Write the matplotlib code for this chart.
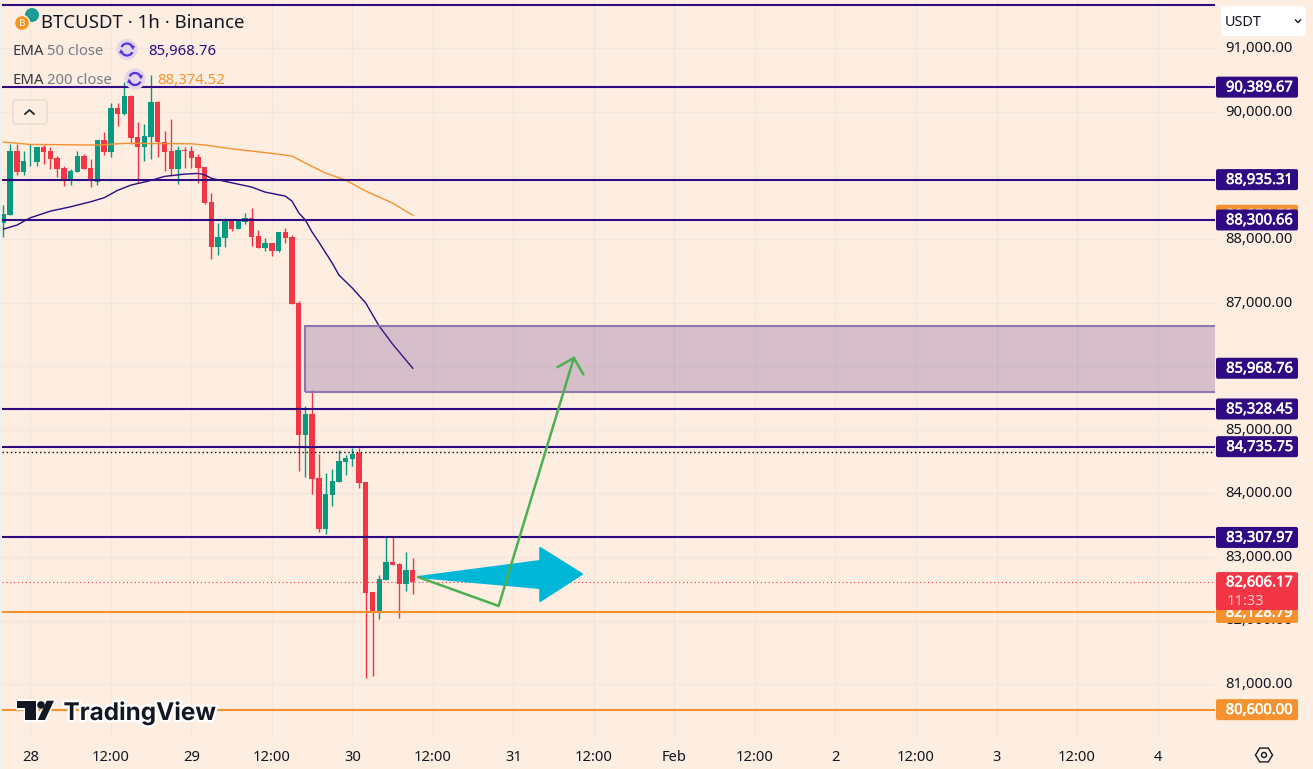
import numpy as np
import matplotlib
matplotlib.use('Agg')
import matplotlib.pyplot as plt
from matplotlib.patches import Circle, Arc, FancyBboxPatch, Polygon, Rectangle
from matplotlib.transforms import ScaledTranslation
import matplotlib.patheffects as pe

# candles, hours counted from 28 Jan 00:00
hours = np.arange(-4, 58)
opens = [88257, 88378, 89385, 89059, 89222, 89217, 89448, 89385, 89280, 89112, 88949, 89059, 89306, 89112, 88897, 89553,
         89369, 90056, 89962, 90250, 89605, 89453, 89605, 90156, 89521, 89385, 89107, 89400, 89385, 89296, 89138, 88582,
         87879, 88021, 88299, 88163, 88267, 88325, 88047, 87864, 87932, 87811, 88110, 88036, 86993, 84917, 85247, 84240,
         83443, 83973, 84182, 84497, 84544, 84634, 84178, 82447, 82137, 82636, 82919, 82888, 82578, 82793]
highs = [88535, 89490, 89500, 89385, 89490, 89448, 89479, 89448, 89306, 89149, 89096, 89385, 89332, 89254, 89553, 89684,
         90135, 90145, 90470, 90261, 89846, 89804, 90580, 90171, 89699, 89883, 89463, 89453, 89463, 89332, 89138, 88729,
         88247, 88336, 88309, 88299, 88414, 88483, 88142, 88021, 87942, 88110, 88168, 88063, 87025, 85373, 85625, 84618,
         84319, 84382, 84681, 84602, 84712, 84712, 84178, 82447, 82715, 83312, 83312, 82904, 83077, 82982]
lows = [88037, 88378, 89007, 89007, 89149, 89149, 89175, 89096, 88976, 88834, 88844, 89059, 89096, 88823, 88844, 89316,
        89290, 89778, 89951, 89490, 88886, 89227, 89264, 89296, 89070, 88991, 88871, 89122, 89122, 88886, 88545, 87691,
        87748, 87879, 88126, 88163, 88231, 87890, 87853, 87811, 87733, 87801, 87942, 86978, 84351, 84261, 83994, 83396,
        83364, 83800, 84182, 84288, 84429, 84088, 81099, 81126, 82027, 82636, 82872, 82043, 82463, 82421]
closes = [88388, 89385, 89059, 89227, 89227, 89448, 89374, 89264, 89107, 88949, 89070, 89306, 89107, 88913, 89553, 89374,
          90056, 89972, 90250, 89594, 89453, 89621, 90156, 89521, 89374, 89107, 89400, 89385, 89280, 89122, 88561, 87879,
          88031, 88309, 88163, 88299, 88325, 88037, 87864, 87932, 87811, 88110, 88021, 86982, 84917, 85247, 84230, 83443,
          83984, 84193, 84508, 84555, 84623, 84167, 82436, 82137, 82652, 82919, 82872, 82578, 82793, 82606.17]

ema50_hours = [-4, -2, 0, 3, 6, 9, 11, 13, 15, 18, 20, 23, 25, 26, 27, 30, 33, 35, 38, 39, 40, 41, 42, 43, 45, 46, 48, 50, 52, 54, 57]
ema50 = [88157, 88220, 88335, 88440, 88508, 88587, 88650, 88766, 88849, 88923, 88986, 89022, 89033, 89011, 88955, 88886,
         88818, 88739, 88676, 88598, 88414, 88299, 88110, 87953, 87622, 87434, 87229, 86993, 86631, 86348, 85968.76]
ema200_hours = [-4, 0, 10, 14, 24, 26, 30, 36, 39, 41, 44, 47, 50, 54, 57]
ema200 = [89526, 89489, 89479, 89505, 89499, 89479, 89420, 89348, 89306, 89195, 89038, 88928, 88755, 88566, 88374.52]

purple_levels = [90389.67, 88935.31, 88300.66, 85328.45, 84735.75, 83307.97]
orange_levels = [82128.79, 80600.00]
top_level = 91680
prev_close = 84645
last_price = 82606.17
zone_start, zone_low, zone_high = 41, 85595, 86633

path_hours = [57.8, 69.8, 81.0]
path_prices = [82686, 82230, 86130]
head_hours = [78.6, 81.0, 82.4]
head_prices = [85989, 86130, 85878]
blue_hours = [57.8, 76, 76, 82.2, 76, 76]
blue_prices = [82686, 82938, 83142, 82733, 82309, 82513]

price_ticks = np.arange(81000, 92000, 1000)
time_ticks = np.arange(0, 169, 12)
time_labels = ['28', '12:00', '29', '12:00', '30', '12:00', '31', '12:00', 'Feb', '12:00', '2', '12:00', '3', '12:00', '4']

BG = '#fdeee1'
GRID = '#f4e6da'
GREEN = '#089981'
RED = '#f23645'
PURPLE = '#2f0a82'
ORANGE = '#f5922f'
TEXT = '#131722'

plt.rcParams['font.family'] = ['Noto Sans', 'DejaVu Sans']
W, H = 1313, 769
fig = plt.figure(figsize=(W / 100, H / 100), dpi=100, facecolor=BG)
fig.patches.append(Rectangle((0, 0), 2 / W, 1, transform=fig.transFigure, facecolor='#e9f1f2', edgecolor='none'))

ax = fig.add_axes([2 / W, (H - 737) / H, 1213 / W, 737 / H], facecolor=BG)
ax.set_xlim(-4.218, 176.56)
ax.set_ylim(80170, 91760)
for s in ax.spines.values():
    s.set_visible(False)
ax.set_axisbelow(True)
ax.grid(color=GRID, linewidth=1)
ax.yaxis.tick_right()
ax.set_yticks(price_ticks, [f'{p:,.2f}' for p in price_ticks])
ax.set_xticks(time_ticks, time_labels)
ax.tick_params(axis='both', length=0, labelcolor=TEXT, labelsize=10.6)
ax.tick_params(axis='y', pad=7.5)
ax.tick_params(axis='x', pad=9.5)
ax.get_xticklabels()[8].set_fontweight('bold')
# nudge price labels up a touch
for lab in ax.get_yticklabels():
    lab.set_transform(lab.get_transform() + ScaledTranslation(0, 1.2 / 72, fig.dpi_scale_trans))

# candles
colors = [GREEN if c >= o else RED for o, c in zip(opens, closes)]
ax.vlines(hours, lows, highs, colors=colors, linewidth=1, zorder=3)
ax.bar(hours, np.abs(np.array(closes) - np.array(opens)), bottom=np.minimum(opens, closes), width=0.8,
       color=colors, linewidth=0, zorder=3)

ax.plot(ema50_hours, ema50, color=PURPLE, linewidth=1, zorder=4)
ax.plot(ema200_hours, ema200, color=ORANGE, linewidth=1, zorder=4)

# zone and level lines
ax.add_patch(Rectangle((zone_start, zone_low), 200 - zone_start, zone_high - zone_low, facecolor='#5a2d82', alpha=0.24,
                       edgecolor='none', zorder=5))
ax.add_patch(Rectangle((zone_start, zone_low), 200 - zone_start, zone_high - zone_low, facecolor='none',
                       edgecolor='#8f76ae', linewidth=1.5, zorder=5))
ax.axhline(prev_close, color='black', linewidth=1, linestyle=(0, (1, 2)), zorder=5)
ax.axhline(last_price, color=RED, linewidth=0.8, linestyle=(0, (1, 2.5)), zorder=5)
for lv in purple_levels + [top_level]:
    ax.axhline(lv, color=PURPLE, linewidth=1.5, zorder=6)
for lv in orange_levels:
    ax.axhline(lv, color=ORANGE, linewidth=1.5, zorder=6)

# drawn arrows
ax.fill(blue_hours, blue_prices, facecolor='#00b7d8', edgecolor='#00b7d8', linewidth=1.5, joinstyle='round', zorder=7)
ax.plot(path_hours, path_prices, color='#4caf50', linewidth=1.8, zorder=8)
ax.plot(head_hours, head_prices, color='#4caf50', linewidth=1.8, zorder=8)

# pixel overlay for the labels and controls
ov = fig.add_axes([0, 0, 1, 1], facecolor='none')
ov.set_xlim(0, W)
ov.set_ylim(H, 0)
ov.axis('off')
thin = [pe.withStroke(linewidth=0.4, foreground='white')]


def price_y(p):
    return H - ax.transData.transform((0, p))[1]


def price_tag(p, color, z=10):
    y = price_y(p)
    ov.add_patch(FancyBboxPatch((1217, y - 9.5), 80, 19, boxstyle='round,pad=1,rounding_size=2', facecolor=color,
                                edgecolor='none', zorder=z))
    ov.text(1293, y + 0.8, f'{p:,.2f}', color='white', ha='right', va='center', fontsize=10.6, zorder=z + 0.5, path_effects=thin)


price_tag(ema200[-1], ORANGE, 10)
price_tag(orange_levels[0], ORANGE, 10)
price_tag(orange_levels[1], ORANGE, 10)
for lv in purple_levels + [ema50[-1]]:
    price_tag(lv, PURPLE, 12)

# last price with countdown
ly = price_y(last_price)
ov.add_patch(FancyBboxPatch((1217, ly - 9), 80, 36, boxstyle='round,pad=1,rounding_size=2', facecolor=RED,
                            edgecolor='none', zorder=14))
ov.text(1293, ly + 0.8, f'{last_price:,.2f}', color='white', ha='right', va='center', fontsize=10.6, zorder=15, path_effects=thin)
ov.text(1227, ly + 19, '11:33', color='#ffc2c8', ha='left', va='center', fontsize=10.6, zorder=15)

# symbol header
ov.add_patch(Circle((32, 15), 7, facecolor='#1e9c94', edgecolor='none', zorder=20))
ov.add_patch(Circle((22, 23), 7.5, facecolor='#f7931a', edgecolor=BG, linewidth=1, zorder=21))
ov.text(22, 23, 'B', color='white', fontsize=7, fontweight='bold', ha='center', va='center', zorder=22)
ov.text(41, 22.5, 'BTCUSDT · 1h · Binance', color=TEXT, fontsize=13.4, ha='left', va='center', zorder=22)


def ema_row(y, name, detail, value, vcolor, detail_x, icon_x, value_x):
    ov.text(13, y + 1.5, name, color=TEXT, fontsize=10.7, ha='left', va='center', zorder=22, alpha=0.85)
    ov.text(detail_x, y + 1.5, detail, color='#787b86', fontsize=10.7, ha='left', va='center', zorder=22)
    ov.add_patch(Circle((icon_x, y - 0.5), 10.5, facecolor='#e3d5ea', edgecolor='none', zorder=22))
    for t1, t2 in ((25, 165), (205, 345)):
        ov.add_patch(Arc((icon_x, y - 0.5), 12, 12, theta1=t1, theta2=t2, edgecolor='#5a2fe0', linewidth=1.6, zorder=23))
    # arrow tips on the refresh ring
    ov.add_patch(Polygon([(icon_x + 3, y - 5), (icon_x + 8, y - 4), (icon_x + 6, y)], closed=True, facecolor='#5a2fe0',
                         edgecolor='none', zorder=23))
    ov.add_patch(Polygon([(icon_x - 3, y + 4), (icon_x - 8, y + 3), (icon_x - 6, y - 1)], closed=True, facecolor='#5a2fe0',
                         edgecolor='none', zorder=23))
    ov.text(value_x, y + 1.5, value, color=vcolor, fontsize=10.7, ha='left', va='center', zorder=22)


ema_row(50, 'EMA', '50 close', '85,968.76', PURPLE, 47, 127, 148)
ema_row(79.5, 'EMA', '200 close', '88,374.52', ORANGE, 47, 135, 157)

# collapse button
ov.add_patch(FancyBboxPatch((13, 100), 34, 24, boxstyle='round,pad=0,rounding_size=3', facecolor=BG, edgecolor='#e8dccf',
                            linewidth=1, zorder=22))
ov.plot([25, 29.5, 34], [114, 110, 114], color=TEXT, linewidth=1.2, zorder=23)

# currency selector
ov.add_patch(FancyBboxPatch((1221, 6), 85, 30, boxstyle='round,pad=0,rounding_size=4', facecolor='white', edgecolor='none',
                            zorder=22))
ov.text(1225, 22.5, 'USDT', color=TEXT, fontsize=10.4, ha='left', va='center', zorder=23)
ov.plot([1295.5, 1298, 1300.5], [20, 22.5, 20], color=TEXT, linewidth=1, zorder=23)

# settings hexagon
a = np.deg2rad(np.arange(0, 360, 60))
ov.add_patch(Polygon(np.c_[1264 + 8.5 * np.cos(a), 755 + 8 * np.sin(a)], closed=True, facecolor='none', edgecolor=TEXT,
                     linewidth=1, zorder=22))
ov.add_patch(Circle((1264, 755), 2.5, facecolor='none', edgecolor=TEXT, linewidth=1, zorder=22))

# watermark
logo = ([(16.7, 700.7), (36, 700.7), (36, 720), (25, 720), (25, 708.3), (16.7, 708.3)],
        [(46.7, 700.7), (54, 700.7), (45, 720), (37.7, 720)])
for pts in logo:
    ov.add_patch(Polygon(pts, closed=True, facecolor='white', edgecolor='white', linewidth=2.5, joinstyle='round', zorder=23))
ov.add_patch(Circle((41, 705), 3.8, facecolor='#131722', edgecolor='none', zorder=24))
for pts in logo:
    ov.add_patch(Polygon(pts, closed=True, facecolor='#131722', edgecolor='none', zorder=24))
ov.text(63.5, 720, 'TradingView', family='Inter', fontweight='bold', fontsize=17.5, color='#131722', ha='left',
        va='baseline', zorder=24, path_effects=[pe.withStroke(linewidth=3.5, foreground='white')])

fig.savefig('out.png', dpi=100, facecolor=fig.get_facecolor())
